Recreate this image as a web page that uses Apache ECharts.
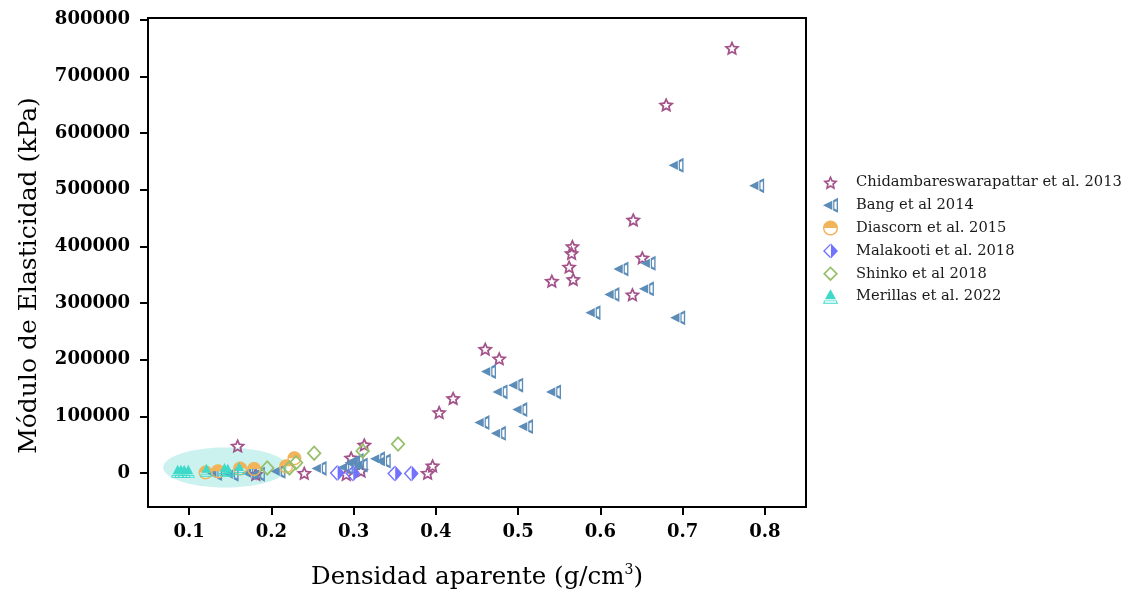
<!DOCTYPE html>
<html>
<head>
<meta charset="utf-8">
<script src="https://cdn.jsdelivr.net/npm/echarts@6/dist/echarts.min.js"></script>
<style>html,body{margin:0;padding:0;background:#fff;}#c{width:1133px;height:601px;}</style>
</head>
<body>
<div id="c"></div>
<script>
// ---- data ----
const seriesNames = ['Chidambareswarapattar et al. 2013','Bang et al 2014','Diascorn et al. 2015','Malakooti et al. 2018','Shinko et al 2018','Merillas et al. 2022'];
const chidambaram = [[0.76,750000],[0.68,650000],[0.64,447000],[0.566,400000],[0.565,388000],[0.562,364000],[0.567,342000],[0.541,339000],[0.651,380000],[0.639,315000],[0.460,219000],[0.477,202000],[0.421,132000],[0.404,107000],[0.390,0],[0.396,13000],[0.313,50000],[0.297,27000],[0.309,4000],[0.291,-2000],[0.240,0],[0.159,48000],[0.181,-2000]];
const bang = [[0.692,543000],[0.790,507000],[0.658,370000],[0.625,360000],[0.656,325000],[0.614,315000],[0.591,283000],[0.694,274000],[0.464,179000],[0.497,155000],[0.478,143000],[0.543,143000],[0.502,112000],[0.456,89000],[0.509,82000],[0.476,70000],[0.329,25000],[0.336,21000],[0.290,10000],[0.298,18000],[0.303,22000],[0.308,14000],[0.258,8000],[0.208,3000],[0.183,-2000],[0.173,0],[0.151,-2000],[0.131,-1000]];
const diascorn = [[0.120,1000],[0.135,3000],[0.162,8000],[0.179,7000],[0.218,12000],[0.228,26000]];
const malakooti = [[0.280,0],[0.299,-1000],[0.350,-1000],[0.370,-1000]];
const shinko = [[0.195,9000],[0.222,9000],[0.230,18000],[0.252,35000],[0.311,39000],[0.354,51000]];
const merillas = [[0.086,3000],[0.090,3000],[0.094,3000],[0.099,3000],[0.121,5000],[0.143,6000],[0.147,5000],[0.161,8000]];
// highlighted region (center x, center y, radius x, radius y) in data units
const ellipseRegion = [[0.144,9700,0.0755,35300]];
const xTicks = [0.1,0.2,0.3,0.4,0.5,0.6,0.7,0.8];
const yTicks = [0,100000,200000,300000,400000,500000,600000,700000,800000];

// ---- symbol paths ----
function poly(pts){return 'M'+pts.map(p=>p[0].toFixed(2)+','+p[1].toFixed(2)).join(' L')+' Z';}
function starPts(R,r){const a=[];for(let i=0;i<10;i++){const ang=-Math.PI/2+i*Math.PI/5;const rr=i%2?r:R;a.push([rr*Math.cos(ang),rr*Math.sin(ang)]);}return a;}
const starPath='path://'+poly(starPts(10,4.7))+' '+poly(starPts(5.0,2.2).reverse());
const bangPath='path://'+poly([[0,5],[6.2,1.9],[6.2,8.1]])+' '+poly([[6.8,1.6],[10,0],[10,10],[6.8,8.4]])+' '+poly([[7.6,2.9],[7.6,7.1],[9.1,7.9],[9.1,2.1]]);
function arc(r,a0,a1,n){const a=[];for(let i=0;i<=n;i++){const t=a0+(a1-a0)*i/n;a.push([r*Math.cos(t),r*Math.sin(t)]);}return a;}
const circPath='path://'+poly(arc(10,Math.PI,2*Math.PI,24))+' '+poly(arc(10,0,Math.PI,24).concat(arc(8.0,Math.PI,0,24)));
const malPath='path://'+poly([[0.6,-10],[10,0],[0.6,10]])+' '+poly([[0,-10],[-10,0],[0,10],[0,7.4],[-7.4,0],[0,-7.4]]);
const diaPath='path://'+poly([[0,-10],[10,0],[0,10],[-10,0]])+' '+poly([[0,-6.8],[-6.8,0],[0,6.8],[6.8,0]]);
const merPath='path://'+poly([[5,0],[8.7,6.7],[1.3,6.7]])+' '+poly([[0.8,7.4],[9.2,7.4],[10,9.6],[0,9.6]])+' '+poly([[1.0,9.0],[9.0,9.0],[8.7,8.0],[1.3,8.0]]);

const colors = ['#a3528a','#5b8db8','#f2b45a','#7272ff','#96bf6c','#3fd9c9'];
const serif = 'DejaVu Serif';

const chart = echarts.init(document.getElementById('c'));
function sc(name,data,sym,size,color){return {name:name,type:'scatter',data:data,symbol:sym,symbolSize:size,itemStyle:{color:color,opacity:1},z:3};}
chart.setOption({
  animation:false,
  grid:{left:148,top:18,right:327,bottom:94,show:true,borderColor:'#000',borderWidth:2,backgroundColor:'transparent'},
  legend:{orient:'vertical',left:818,top:170,itemWidth:15,itemHeight:15,itemGap:7.8,
    data:seriesNames,textStyle:{fontFamily:serif,fontSize:14.7,color:'#1a1a1a',padding:[0,0,0,13]}},
  xAxis:{type:'value',min:0.05,max:0.85,
    axisLine:{onZero:false,lineStyle:{color:'#000',width:2}},
    axisTick:{show:true,length:8,lineStyle:{color:'#000',width:2},customValues:xTicks},
    axisLabel:{customValues:xTicks,fontFamily:serif,fontWeight:'bold',fontSize:18,color:'#000',margin:16,formatter:v=>v.toFixed(1)},
    splitLine:{show:false},
    name:'{a|Densidad aparente (g/cm}{s|3}{a|)}',nameLocation:'middle',nameGap:56,
    nameTextStyle:{rich:{a:{fontFamily:serif,fontSize:24.5,color:'#000'},s:{fontFamily:serif,fontSize:14,color:'#000',verticalAlign:'top',padding:[0,0,16,0]}}}
  },
  yAxis:{type:'value',min:-60000,max:803000,
    axisLine:{onZero:false,lineStyle:{color:'#000',width:2}},
    axisTick:{show:true,length:8,lineStyle:{color:'#000',width:2},customValues:yTicks},
    axisLabel:{customValues:yTicks,fontFamily:serif,fontWeight:'bold',fontSize:18,color:'#000',margin:18,formatter:v=>String(v)},
    splitLine:{show:false},
    name:'Módulo de Elasticidad (kPa)',nameLocation:'middle',nameGap:106,nameRotate:90,
    nameTextStyle:{fontFamily:serif,fontSize:25,color:'#000',padding:[0,26,0,0]}
  },
  series:[
    {type:'custom',name:'region',silent:true,z:1,data:ellipseRegion,encode:{x:0,y:1},
      renderItem:function(params,api){
        const c=api.coord([api.value(0),api.value(1)]);
        const s=api.size([api.value(2),api.value(3)]);
        const pts=[];for(let i=0;i<72;i++){const t=i/72*2*Math.PI;pts.push([c[0]+s[0]*Math.cos(t),c[1]+s[1]*Math.sin(t)]);}
        return {type:'polygon',shape:{points:pts},style:{fill:'#cbf2ef'}};
      }},
    sc(seriesNames[0],chidambaram,starPath,[16,15],colors[0]),
    sc(seriesNames[1],bang,bangPath,[15,15],colors[1]),
    sc(seriesNames[2],diascorn,circPath,[14,14],colors[2]),
    sc(seriesNames[3],malakooti,malPath,[15,16],colors[3]),
    sc(seriesNames[4],shinko,diaPath,[15,16],colors[4]),
    sc(seriesNames[5],merillas,merPath,[13,13],colors[5])
  ]
});
</script>
</body>
</html>
